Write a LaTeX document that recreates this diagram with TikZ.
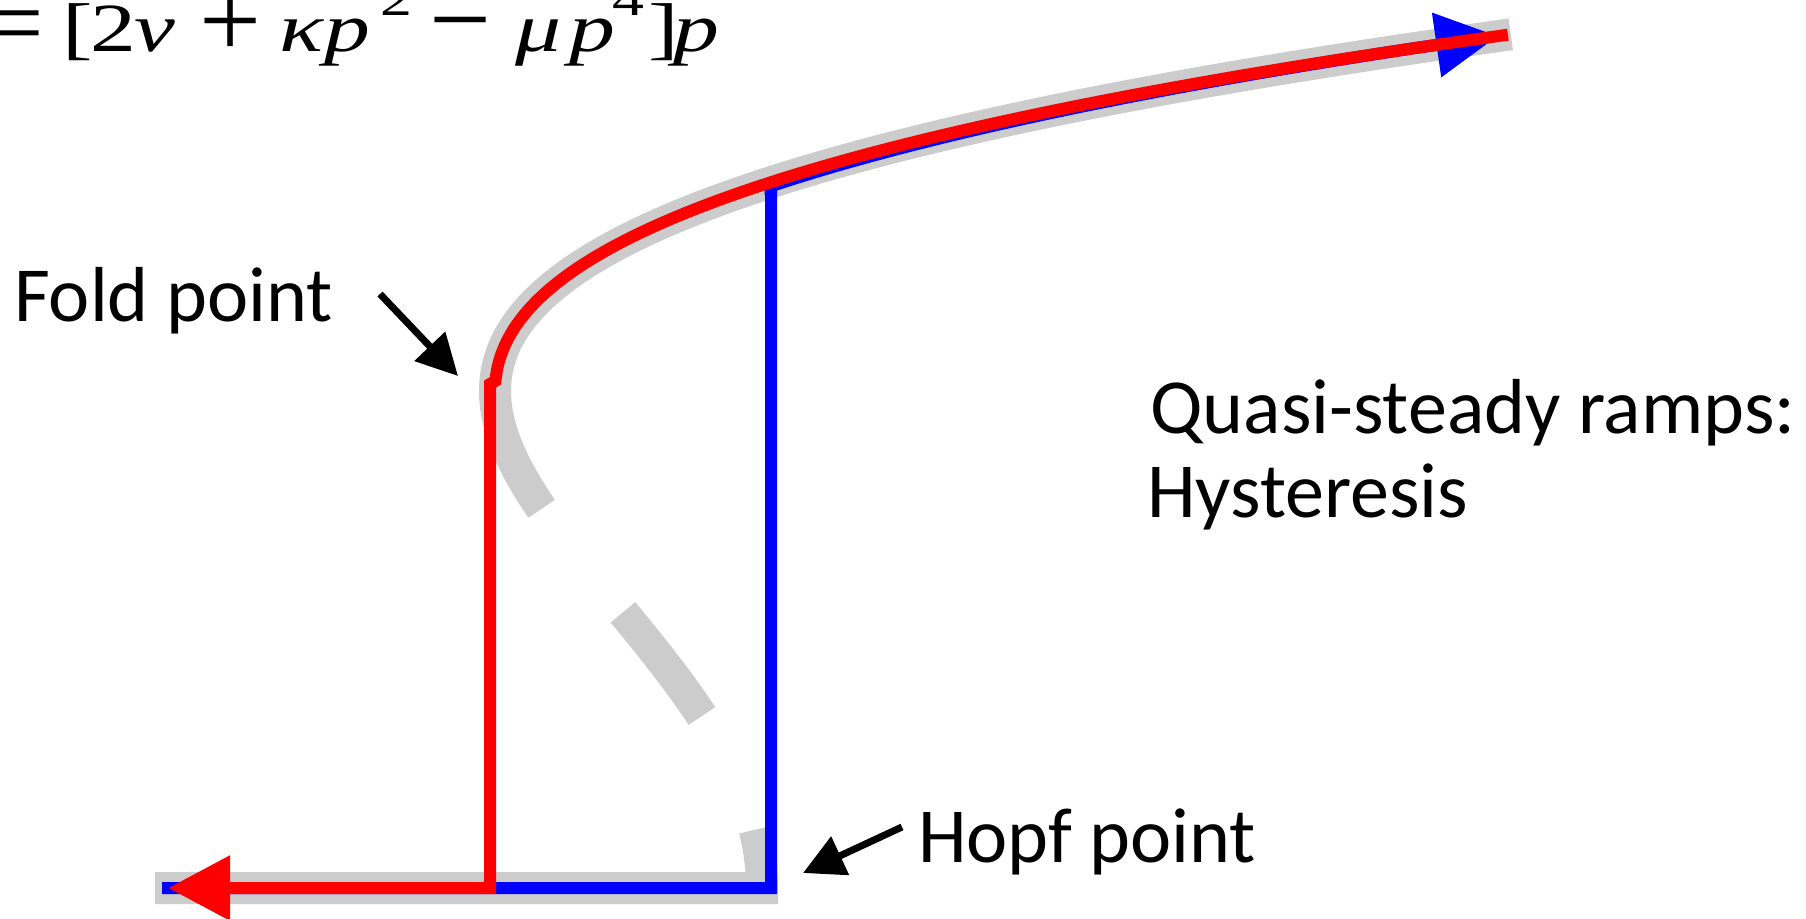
\documentclass[tikz,border=0pt]{standalone}
\usepackage{fontspec}
\usepackage{graphicx}
\setmainfont{Carlito}
\newfontfamily\tms{Liberation Serif}
\usetikzlibrary{arrows.meta}
\definecolor{graycurve}{RGB}{204,204,204}
\definecolor{redc}{RGB}{255,0,0}
\definecolor{bluec}{RGB}{0,0,255}
\newcommand\glat[2]{\rlap{\hspace*{#1pt}#2}}
\newcommand\fm[1]{\scalebox{1.33}[1]{#1}}
\newcommand\supr[1]{\raisebox{36pt}{\fontsize{48}{48}\selectfont\fm{#1}}}
\newcommand\bigop[2]{\raisebox{#1pt}{\fontsize{110}{110}\selectfont #2}}
\begin{document}
\begin{tikzpicture}[x=1pt,y=-1pt,
  declare function={bx(\t)=762+267*(\t^4-2*\t^2); by(\t)=888-497*\t;},
  grayline/.style={draw=graycurve, line width=32pt, line join=miter},
  redline/.style={draw=redc, line width=12pt, line join=miter},
  blueline/.style={draw=bluec, line width=12pt, line join=miter},
  bigtip/.style={-{Triangle[length=62pt,width=62pt]}},
  pointer/.style={draw=black, line width=7pt, -{Triangle[length=41pt,width=41pt]}},
  lbl/.style={anchor=base west, inner sep=0pt, font=\fontsize{78}{90}\selectfont},
]
\useasboundingbox (0,0) rectangle (1806,918);
% bifurcation curve (gray)
\draw[grayline] (155,888) -- plot[domain=0:0.117, samples=10, variable=\t] ({bx(\t)},{by(\t)});
\draw[grayline] plot[domain=0.346:0.555, samples=20, variable=\t] ({bx(\t)},{by(\t)});
\draw[grayline] plot[domain=0.763:1.719, samples=90, variable=\t] ({bx(\t)},{by(\t)});
% blue ramp up
\draw[blueline, bigtip] (162,888) -- (771,888) -- (771,186)
  -- plot[domain=1.4201:1.69, samples=50, variable=\t] ({bx(\t)},{by(\t)+4*(1.69-\t)/0.27})
  -- ({bx(1.7141)},{by(1.7141)});
% red ramp down
\draw[redline, bigtip] plot[domain=0:1, samples=80, variable=\s] ({bx(1.7169-0.6969*\s)},{by(1.7169-0.6969*\s)})
  -- (490,384) -- (490,888) -- (168,888);
% pointers
\coordinate (foldfrom) at (380,294);
\coordinate (foldto) at (458,376);
\coordinate (hopffrom) at (902,827);
\coordinate (hopfto) at (803,873);
\draw[pointer] (foldfrom) -- (foldto);
\draw[pointer] (hopffrom) -- (hopfto);
% labels
\node[lbl] (fold) at (14,321) {Fold point};
\node[lbl] (quasi) at (1150,433) {Quasi-steady ramps:};
\node[lbl] (hyst) at (1147,517) {Hysteresis};
\node[lbl] (hopf) at (918,862) {Hopf point};
\node[anchor=base west, inner sep=0pt, font=\tms\fontsize{69}{69}\selectfont] (formula) at (0,51.5)
  {\glat{-13}{\raisebox{-5pt}{\fontsize{100}{100}\selectfont =}}%
   \glat{62}{\fm{[}}\glat{90}{\fm{2}}\glat{134}{\fm{\itshape ν}}%
   \glat{199}{\bigop{-6}{+}}%
   \glat{279}{\fm{\itshape κ}}\glat{324}{\fm{\itshape p}}\glat{380}{\supr{2}}%
   \glat{429}{\bigop{-5}{−}}%
   \glat{515}{\fm{\itshape μ}}\glat{569}{\fm{\itshape p}}\glat{612}{\supr{4}}%
   \glat{648}{\fm{]}}\glat{673}{\fm{\itshape p}}};
\end{tikzpicture}
\end{document}
